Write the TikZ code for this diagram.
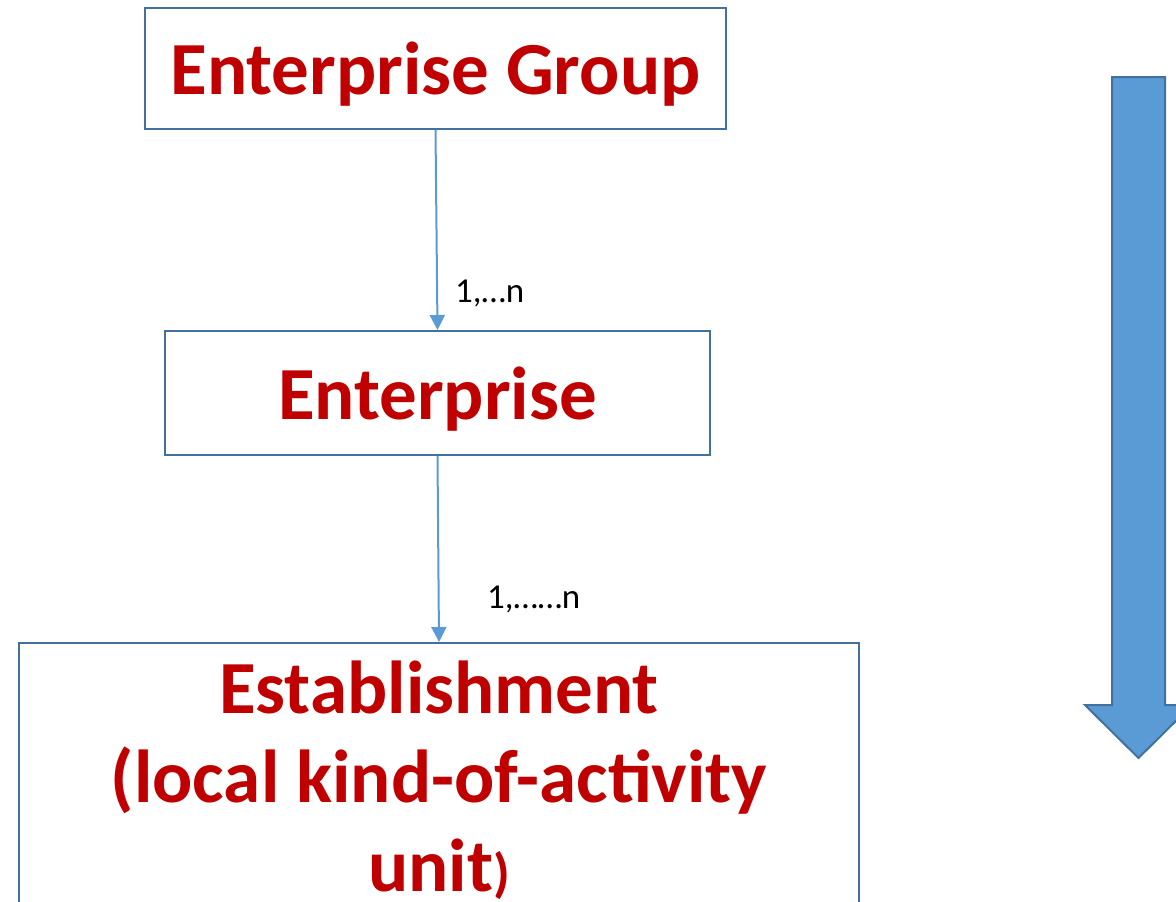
\documentclass[tikz,border=0pt]{standalone}
\usepackage{fontspec}
\setmainfont{Carlito}
\usetikzlibrary{arrows.meta}

\definecolor{unitred}{HTML}{C00000}
\definecolor{boxline}{HTML}{41719C}
\definecolor{linkblue}{HTML}{5B9BD5}

\tikzset{
	unit/.style={shape=rectangle, draw=boxline, line width=2pt, text=unitred,
		font=\fontsize{75}{89}\selectfont\bfseries, align=center},
	link/.style={-{Triangle[width=15pt,length=15pt]}, draw=linkblue, fill=linkblue, line width=2pt},
	card/.style={font=\fontsize{35}{42}\selectfont, anchor=west, inner sep=0pt}
}

\begin{document}
\begin{tikzpicture}[x=1pt,y=-1pt]
	
	\useasboundingbox (0,0) rectangle (1176,902);
	\clip (0,0) rectangle (1176,902);
	
	\node[unit, text depth=0pt, minimum width=581pt, minimum height=121pt] (eg) at (435.5, 68.5) {Enterprise Group};
	\node[unit, text depth=0pt, minimum width=545pt, minimum height=124pt] (e)  at (437.5, 393)  {Enterprise};
	\node[unit, minimum width=840pt, minimum height=274pt] (est) at (439, 780) {Establishment\\(local kind-of-activity\\unit{\fontsize{54}{89}\selectfont)}};
	
	\draw[link] (eg.south) -- (e.north);
	\draw[link] (e.south) -- (est.north);
	
	\node[card] (c1) at (455, 293) {1,…n};
	\node[card] (c2) at (487, 599) {1,……n};
	
	% big downward arrow on the right
	\draw[draw=boxline, fill=linkblue, line width=2pt, line join=miter]
		(1112,77) -- (1165,77) -- (1165,705) -- (1192,705) -- (1138.5,758)
		-- (1085,705) -- (1112,705) -- cycle;
	
\end{tikzpicture}
\end{document}
